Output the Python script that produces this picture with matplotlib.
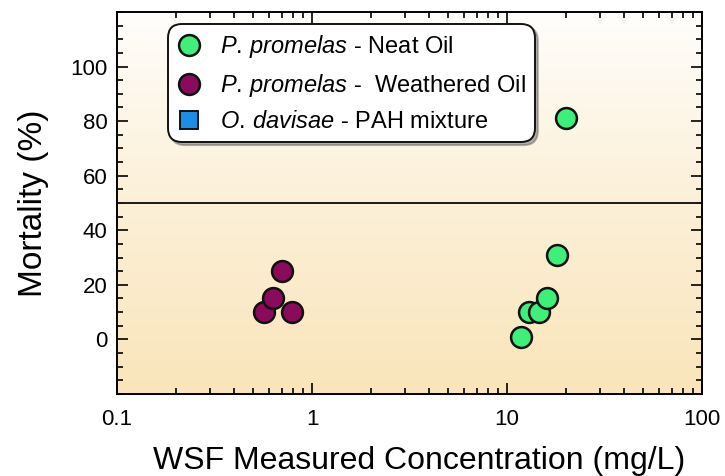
import numpy as np
import matplotlib
matplotlib.use("Agg")
import matplotlib.pyplot as plt
from matplotlib.colors import LinearSegmentedColormap
from matplotlib.ticker import MultipleLocator

plt.rcParams['font.family'] = ['Liberation Sans', 'DejaVu Sans']
plt.rcParams['mathtext.fontset'] = 'custom'
plt.rcParams['mathtext.rm'] = 'Liberation Sans'
plt.rcParams['mathtext.it'] = 'Liberation Sans:italic'

# P. promelas, neat oil WSF
neat_conc = [11.8, 13.0, 14.6, 16.0, 18.0, 20.1]
neat_mort = [1, 10, 10, 15, 31, 81]

# P. promelas, weathered oil WSF
weath_conc = [0.567, 0.633, 0.700, 0.786]
weath_mort = [10, 15, 25, 10]

# O. davisae, PAH mixture (legend entry only)
pah_conc = []
pah_mort = []

labels = [r"$\it{P.\,promelas}$ - Neat Oil",
          r"$\it{P.\,promelas}$ -  Weathered Oil",
          r"$\it{O.\,davisae}$ - PAH mixture"]
xtick_vals = [0.1, 1, 10, 100]
xtick_text = ["0.1", "1", "10", "100"]
ytick_vals = [0, 20, 40, 60, 80, 100]

fig = plt.figure(figsize=(7.25, 4.76), dpi=100)
ax = fig.add_axes([0.1614, 0.1723, 0.8069, 0.8025])

# cream background, white at the top fading to pale yellow
cmap = LinearSegmentedColormap.from_list(
    "cream", [(0, "#fae5ba"), (0.55, "#fcf1da"), (1, "#fffefc")])
grad = np.linspace(0, 1, 256).reshape(-1, 1)
ax.imshow(grad, cmap=cmap, aspect="auto", origin="lower",
          extent=[0, 1, 0, 1], transform=ax.transAxes, zorder=0)

ax.axhline(50, color="#1a1a1a", lw=1.4, zorder=2)

ms = 15
ax.plot(neat_conc, neat_mort, "o", ms=ms, mfc="#3ef07a", mec="#111111",
        mew=1.8, ls="none", label=labels[0], zorder=3)
ax.plot(weath_conc, weath_mort, "o", ms=ms, mfc="#8a0a5c", mec="#111111",
        mew=1.8, ls="none", label=labels[1], zorder=3)
ax.plot(pah_conc, pah_mort, "s", ms=13, mfc="#1a8fe8", mec="#111111",
        mew=1.4, ls="none", label=labels[2], zorder=3)

ax.set_xscale("log")
ax.set_xlim(0.1, 100)
ax.set_ylim(-20, 120)
ax.set_xticks(xtick_vals, xtick_text)
ax.set_yticks(ytick_vals)
ax.yaxis.set_minor_locator(MultipleLocator(5))

ax.tick_params(which="both", direction="in", top=True, right=True,
               width=1.2, labelsize=16)
ax.tick_params(which="major", length=8)
ax.tick_params(which="minor", length=4.5)
ax.tick_params(axis="x", pad=11)
ax.tick_params(axis="y", pad=7)
for sp in ax.spines.values():
    sp.set_linewidth(1.4)

ax.set_xlabel("WSF Measured Concentration (mg/L)", fontsize=23, va="center")
ax.set_ylabel("Mortality (%)", fontsize=24, va="center")
ax.xaxis.set_label_coords(0.516, -0.176)
ax.yaxis.set_label_coords(-0.143, 0.5)

leg = ax.legend(loc="upper left", bbox_to_anchor=(0.087, 0.969),
                fontsize=17, frameon=True, fancybox=True,
                shadow={"color": "0.35", "alpha": 0.45},
                handletextpad=0.8, borderpad=0.4, labelspacing=0.5,
                handlelength=1.0, borderaxespad=0)
frame = leg.get_frame()
frame.set_boxstyle("round,pad=0,rounding_size=0.6")
frame.set_edgecolor("#111111")
frame.set_linewidth(1.4)
frame.set_facecolor("white")
frame.set_alpha(1)

fig.savefig("out.png", dpi=100)
